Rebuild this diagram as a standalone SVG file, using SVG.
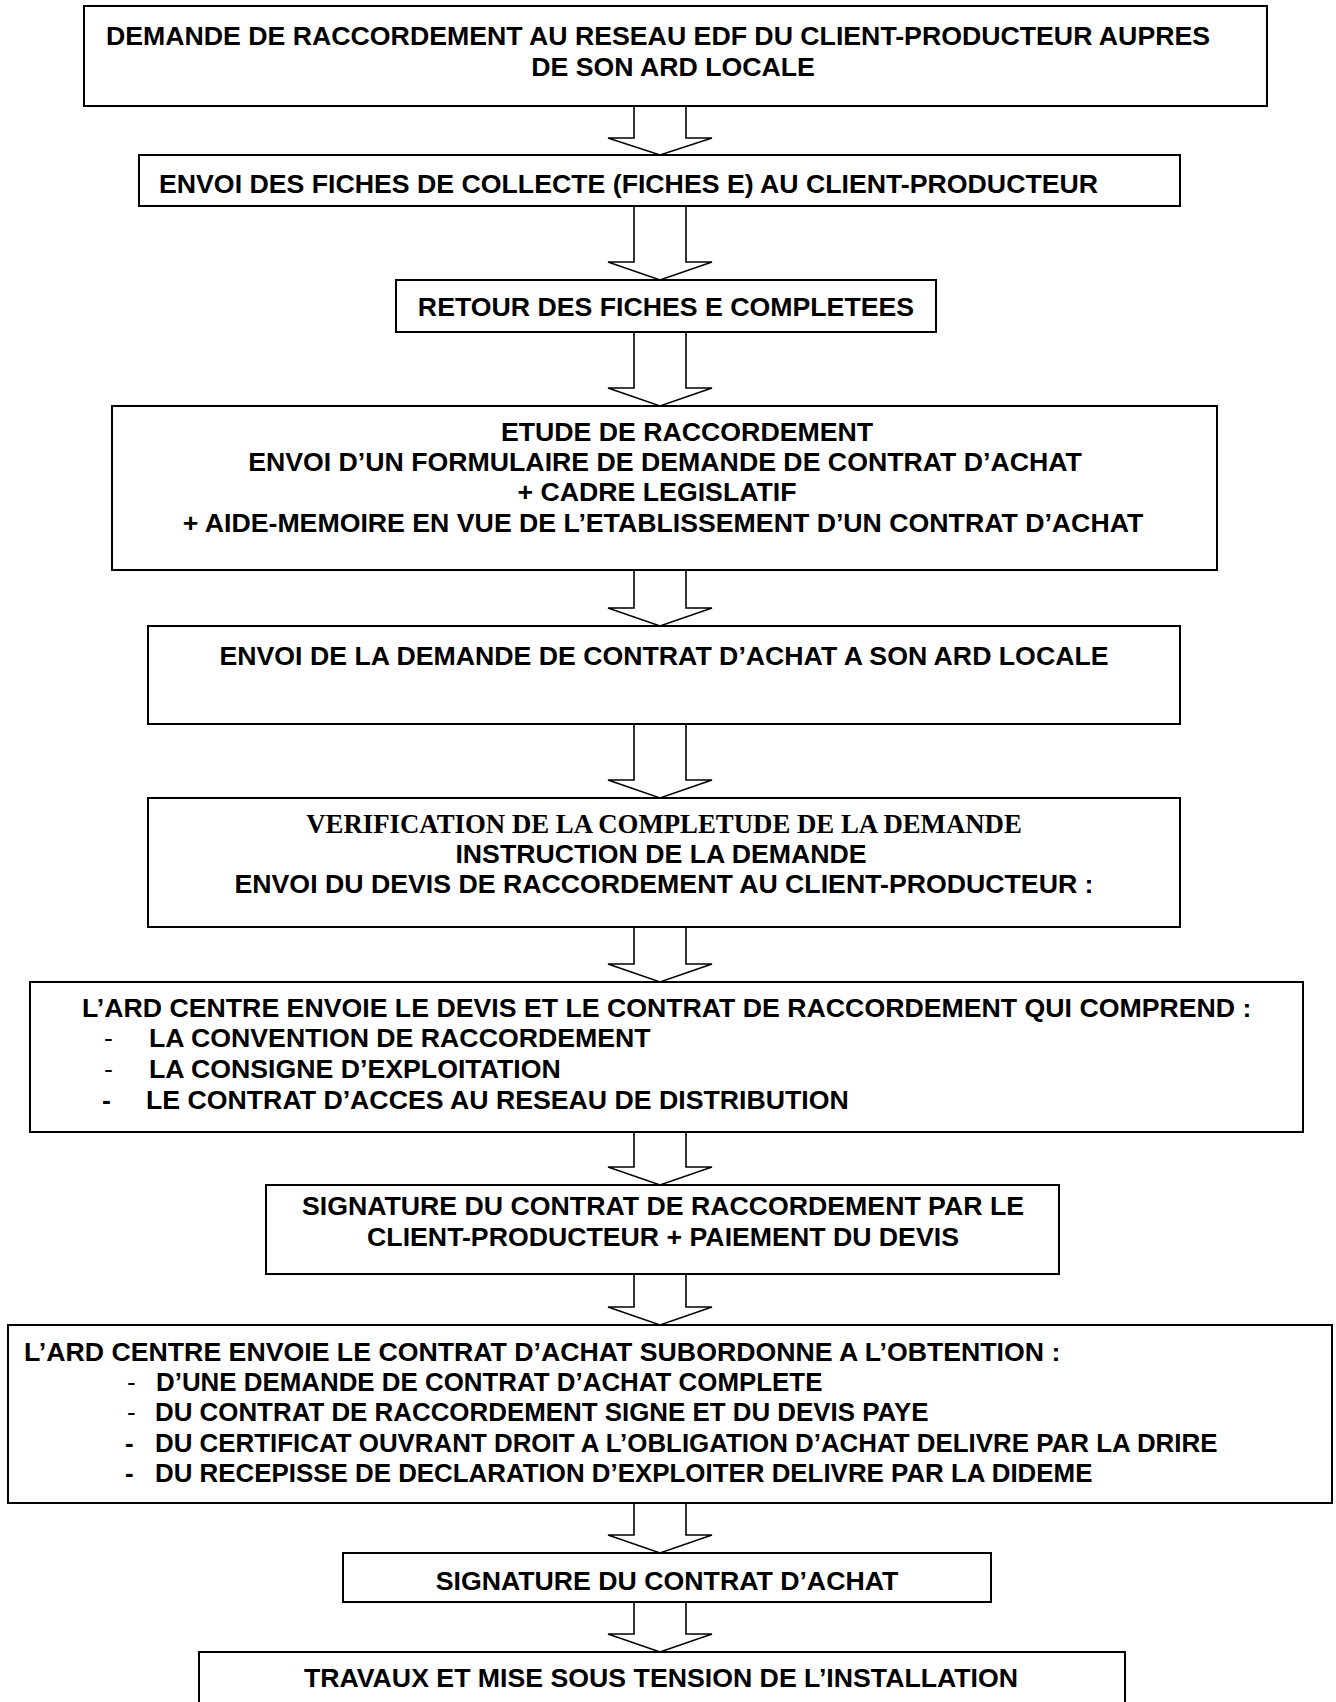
<svg xmlns="http://www.w3.org/2000/svg" width="1336" height="1702" viewBox="0 0 1336 1702">
<style>
.box{fill:#fff;stroke:#000;stroke-width:2}
.arr{fill:#fff;stroke:#000;stroke-width:1.6;stroke-linejoin:miter}
.t{font-family:"Liberation Sans",Arial,sans-serif;font-weight:bold;font-size:26.7px;fill:#000}
.c{text-anchor:middle}
.s{font-family:"Liberation Serif","Times New Roman",serif;font-weight:bold;font-size:26.8px;fill:#000;text-anchor:middle}
.d{font-weight:normal}
.b9{font-size:25.9px}
</style>
<rect width="1336" height="1702" fill="#fff"/>
<g id="connectors">
<path class="arr" d="M634,106 V138 H608 L660,155 L712,138 H686 V106"/>
<path class="arr" d="M634,206 V262 H608 L660,280 L712,262 H686 V206"/>
<path class="arr" d="M634,332 V388 H608 L660,406 L712,388 H686 V332"/>
<path class="arr" d="M634,570 V608 H608 L660,626 L712,608 H686 V570"/>
<path class="arr" d="M634,724 V780 H608 L660,798 L712,780 H686 V724"/>
<path class="arr" d="M634,927 V964 H608 L660,982 L712,964 H686 V927"/>
<path class="arr" d="M634,1132 V1167 H608 L660,1185 L712,1167 H686 V1132"/>
<path class="arr" d="M634,1274 V1307 H608 L660,1325 L712,1307 H686 V1274"/>
<path class="arr" d="M634,1503 V1535 H608 L660,1553 L712,1535 H686 V1503"/>
<path class="arr" d="M634,1602 V1634 H608 L660,1652 L712,1634 H686 V1602"/>
</g>
<g id="n1">
<rect class="box" x="84" y="6" width="1183" height="100"/>
<text class="t c" x="658" y="45">DEMANDE DE RACCORDEMENT AU RESEAU EDF DU CLIENT-PRODUCTEUR AUPRES</text>
<text class="t c" x="673" y="76">DE SON ARD LOCALE</text>
</g>
<g id="n2">
<rect class="box" x="139" y="155" width="1041" height="51"/>
<text class="t" x="159" y="193">ENVOI DES FICHES DE COLLECTE (FICHES E) AU CLIENT-PRODUCTEUR</text>
</g>
<g id="n3">
<rect class="box" x="396" y="280" width="540" height="52"/>
<text class="t c" x="666" y="316">RETOUR DES FICHES E COMPLETEES</text>
</g>
<g id="n4">
<rect class="box" x="112" y="406" width="1105" height="164"/>
<text class="t c" x="687" y="441">ETUDE DE RACCORDEMENT</text>
<text class="t c" x="665" y="471">ENVOI D’UN FORMULAIRE DE DEMANDE DE CONTRAT D’ACHAT</text>
<text class="t c" x="657" y="501">+ CADRE LEGISLATIF</text>
<text class="t c" x="663" y="532">+ AIDE-MEMOIRE EN VUE DE L’ETABLISSEMENT D’UN CONTRAT D’ACHAT</text>
</g>
<g id="n5">
<rect class="box" x="148" y="626" width="1032" height="98"/>
<text class="t c" x="664" y="665">ENVOI DE LA DEMANDE DE CONTRAT D’ACHAT A SON ARD LOCALE</text>
</g>
<g id="n6">
<rect class="box" x="148" y="798" width="1032" height="129"/>
<text class="s" x="664" y="833">VERIFICATION DE LA COMPLETUDE DE LA DEMANDE</text>
<text class="t c" x="661" y="863">INSTRUCTION DE LA DEMANDE</text>
<text class="t c" x="664" y="893">ENVOI DU DEVIS DE RACCORDEMENT AU CLIENT-PRODUCTEUR :</text>
</g>
<g id="n7">
<rect class="box" x="30" y="982" width="1273" height="150"/>
<text class="t" x="82" y="1017">L’ARD CENTRE ENVOIE LE DEVIS ET LE CONTRAT DE RACCORDEMENT QUI COMPREND :</text>
<text class="t d" x="104" y="1047">-</text>
<text class="t" x="149" y="1047">LA CONVENTION DE RACCORDEMENT</text>
<text class="t d" x="104" y="1078">-</text>
<text class="t" x="149" y="1078">LA CONSIGNE D’EXPLOITATION</text>
<text class="t" x="102" y="1109">-</text>
<text class="t" x="146" y="1109">LE CONTRAT D’ACCES AU RESEAU DE DISTRIBUTION</text>
</g>
<g id="n8">
<rect class="box" x="266" y="1185" width="793" height="89"/>
<text class="t c" x="663" y="1215">SIGNATURE DU CONTRAT DE RACCORDEMENT PAR LE</text>
<text class="t c" x="663" y="1246">CLIENT-PRODUCTEUR + PAIEMENT DU DEVIS</text>
</g>
<g id="n9">
<rect class="box" x="8" y="1325" width="1324" height="178"/>
<text class="t" x="24" y="1361">L’ARD CENTRE ENVOIE LE CONTRAT D’ACHAT SUBORDONNE A L’OBTENTION :</text>
<text class="t d b9" x="127" y="1391">-</text>
<text class="t b9" x="156" y="1391">D’UNE DEMANDE DE CONTRAT D’ACHAT COMPLETE</text>
<text class="t d b9" x="127" y="1421">-</text>
<text class="t b9" x="155" y="1421">DU CONTRAT DE RACCORDEMENT SIGNE ET DU DEVIS PAYE</text>
<text class="t b9" x="125" y="1452">-</text>
<text class="t b9" x="155" y="1452">DU CERTIFICAT OUVRANT DROIT A L’OBLIGATION D’ACHAT DELIVRE PAR LA DRIRE</text>
<text class="t b9" x="125" y="1482">-</text>
<text class="t b9" x="155" y="1482">DU RECEPISSE DE DECLARATION D’EXPLOITER DELIVRE PAR LA DIDEME</text>
</g>
<g id="n10">
<rect class="box" x="343" y="1553" width="648" height="49"/>
<text class="t c" x="667" y="1590">SIGNATURE DU CONTRAT D’ACHAT</text>
</g>
<g id="n11">
<rect class="box" x="199" y="1652" width="926" height="80"/>
<text class="t c" x="661" y="1687">TRAVAUX ET MISE SOUS TENSION DE L’INSTALLATION</text>
</g>
</svg>
